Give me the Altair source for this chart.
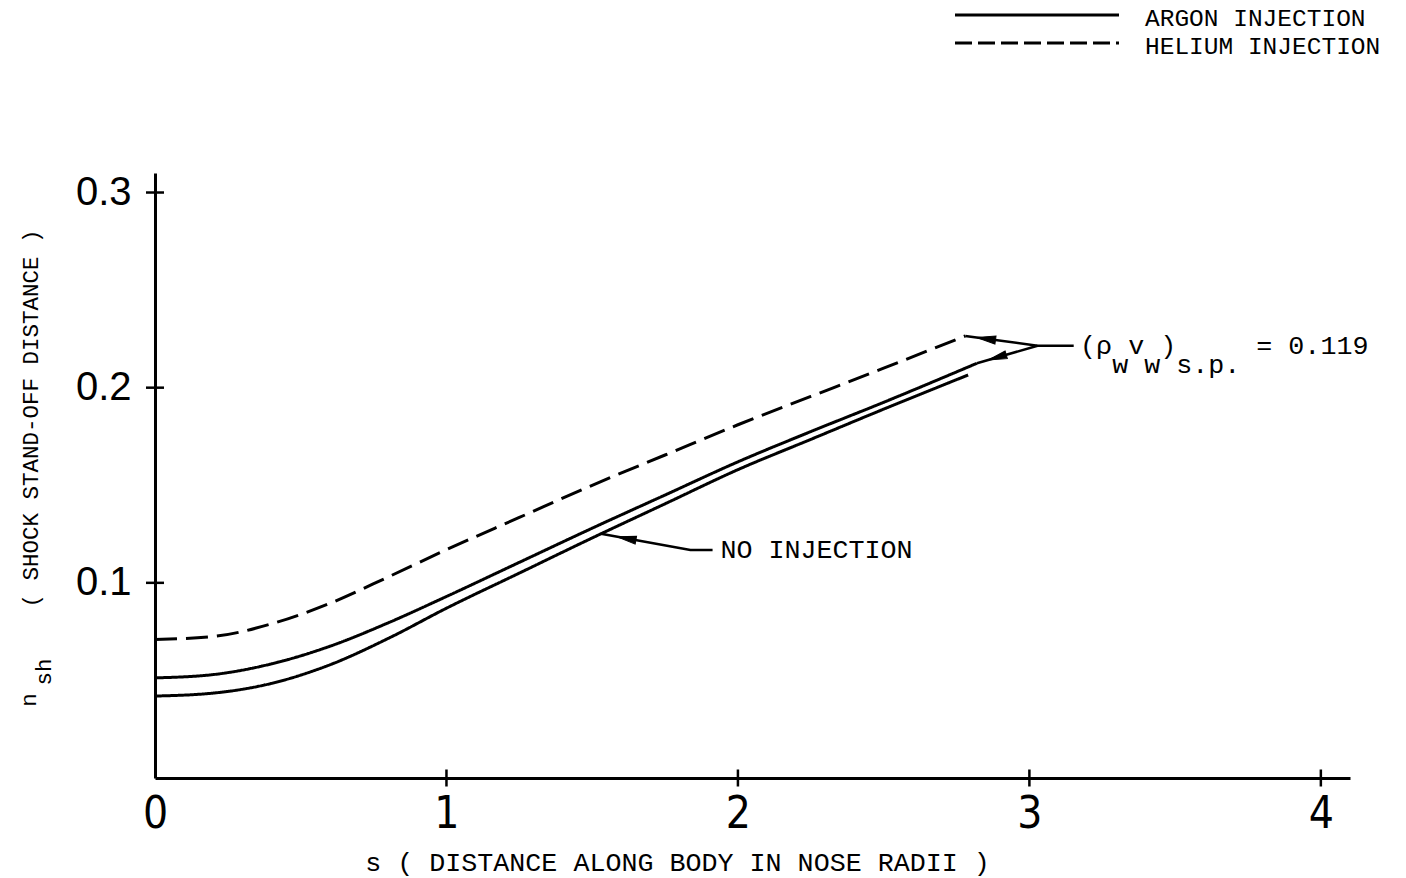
import math

import altair as alt
import numpy as np
import pandas as pd

# Shock stand-off distance n_sh against distance along the body s (nose radii)
s_helium = [0, 0.2, 0.4, 0.6, 0.8, 1.0, 1.25, 1.5, 1.75, 2.0, 2.25, 2.5, 2.78]
n_helium = [0.071, 0.0725, 0.079, 0.0895, 0.103, 0.117, 0.1335, 0.150, 0.1655, 0.181, 0.1955, 0.210, 0.2265]

s_argon = [0, 0.2, 0.4, 0.6, 0.8, 1.0, 1.25, 1.5, 1.75, 2.0, 2.25, 2.5, 2.82]
n_argon = [0.0513, 0.053, 0.0585, 0.0675, 0.0795, 0.093, 0.1105, 0.128, 0.145, 0.162, 0.1775, 0.1925, 0.2125]

s_none = [0, 0.2, 0.4, 0.6, 0.8, 1.0, 1.25, 1.5, 1.75, 2.0, 2.25, 2.5, 2.79]
n_none = [0.042, 0.0435, 0.0485, 0.058, 0.0715, 0.087, 0.105, 0.123, 0.1405, 0.158, 0.1735, 0.189, 0.2065]

series_names = ["ARGON INJECTION", "HELIUM INJECTION", "NO INJECTION"]
legend_names = ["ARGON INJECTION", "HELIUM INJECTION"]
x_tick_values = [0, 1, 2, 3, 4]
y_tick_values = [0.1, 0.2, 0.3]
blowing_value = "0.119"

# plot geometry
W, H = 1195, 605
X_MAX, Y_MAX = 4.1, 0.31
PX_S = W / X_MAX          # pixels per unit s
PX_N = H / Y_MAX          # pixels per unit n
MONO = "Liberation Mono"
MONO_SIZE = 26.7
CELL = 0.6 * MONO_SIZE    # advance of one monospaced character

# ---- curve table ------------------------------------------------------------
rows = []
for name, ss, nn in zip(series_names, [s_argon, s_helium, s_none], [n_argon, n_helium, n_none]):
    for i, (a, b) in enumerate(zip(ss, nn)):
        rows.append({"series": name, "s": a, "n": b, "order": i})
curves = pd.DataFrame(rows)

# ---- leader lines for the annotations --------------------------------------
tip_none_s = 1.53
tip_none_n = float(np.interp(tip_none_s, s_none, n_none))
label_none = (1.94, 0.1168)
label_blow = (3.174, 0.2215)

leaders = {
    "none": [(label_none[0] - 0.027, label_none[1]), (1.837, label_none[1]), (tip_none_s, tip_none_n)],
    "helium": [(label_blow[0] - 0.022, label_blow[1]), (3.028, label_blow[1]), (s_helium[-1], n_helium[-1])],
    "argon": [(3.028, label_blow[1]), (s_argon[-1], n_argon[-1])],
}
lead_rows = []
head_rows = []
for key, pts in leaders.items():
    for i, (a, b) in enumerate(pts):
        lead_rows.append({"leader": key, "s": a, "n": b, "order": i})
    (s0, n0), (s1, n1) = pts[-2], pts[-1]
    dx = (s1 - s0) * PX_S
    dy = -(n1 - n0) * PX_N
    length = math.hypot(dx, dy)
    ux, uy = dx / length, dy / length
    back = 26 if key == "none" else 21
    head_rows.append({
        "s": s1 - ux * back / PX_S,
        "n": n1 + uy * back / PX_N,
        "ang": math.degrees(math.atan2(dx, -dy)) % 360,
    })
lead_df = pd.DataFrame(lead_rows)
head_df = pd.DataFrame(head_rows)

# annotation texts; the blowing-rate label is set piece by piece so the
# subscripts sit half a line lower, one character cell apart
sub_shift = 19 / PX_N
pieces = [("(ρ", 0, 0), ("w", 2, 1), ("v", 3, 0), ("w", 4, 1), (")", 5, 0),
          ("s.p.", 6, 1), ("= " + blowing_value, 11, 0)]
note_rows = [{"s": label_none[0], "n": label_none[1], "text": "NO INJECTION"}]
for txt, cell, low in pieces:
    note_rows.append({
        "s": label_blow[0] + cell * CELL / PX_S,
        "n": label_blow[1] - low * sub_shift,
        "text": txt,
    })
notes = pd.DataFrame(note_rows)

# ---- scales & axes ----------------------------------------------------------
xs = alt.Scale(domain=[0, X_MAX], nice=False, zero=False)
ys = alt.Scale(domain=[0, Y_MAX], nice=False, zero=False)

x_axis = alt.Axis(
    values=x_tick_values, format="d", grid=False, ticks=False, tickSize=0,
    domainColor="black", domainWidth=3,
    labelFont="Liberation Sans Narrow, DejaVu Sans Condensed, Liberation Sans",
    labelFontSize=44, labelColor="black", labelPadding=14, labelFlush=False,
    title="s ( DISTANCE ALONG BODY IN NOSE RADII )",
    titleFont=MONO, titleFontSize=MONO_SIZE, titleFontWeight="normal", titleColor="black",
    titleX=522, titleY=84, titleAlign="center", titleBaseline="middle", titleAnchor="start",
)
y_axis = alt.Axis(
    values=y_tick_values, format=".1f", grid=False, ticks=False, tickSize=0,
    domainColor="black", domainWidth=3,
    labelFont="Liberation Sans", labelFontSize=40, labelColor="black",
    labelPadding=24, labelFlush=False,
    title="( SHOCK STAND-OFF DISTANCE )",
    titleFont=MONO, titleFontSize=22.5, titleFontWeight="normal", titleColor="black",
    titleAngle=270, titleX=-125, titleY=245, titleAlign="center", titleBaseline="middle",
    titleAnchor="start",
)


def X():
    return alt.X("s:Q", scale=xs, axis=x_axis)


def Y():
    return alt.Y("n:Q", scale=ys, axis=y_axis)


lines = alt.Chart(curves).mark_line(
    color="black", strokeWidth=3, interpolate="monotone"
).encode(
    x=X(), y=Y(), detail="series:N", order="order:Q",
    strokeDash=alt.StrokeDash(
        "series:N",
        scale=alt.Scale(domain=series_names, range=[[1, 0], [22, 9], [1, 0]]),
        legend=None,
    ),
)

# axis ticks that cross the axis lines
y_ticks = alt.Chart(pd.DataFrame({"s": [0.0] * 3, "n": y_tick_values})).mark_tick(
    orient="horizontal", size=18, thickness=2.5, color="black", opacity=1
).encode(x=X(), y=Y())
x_ticks = alt.Chart(pd.DataFrame({"s": x_tick_values[1:], "n": [0.0] * 4})).mark_tick(
    orient="vertical", size=17, thickness=2.5, color="black", opacity=1
).encode(x=X(), y=Y())

leader_lines = alt.Chart(lead_df).mark_line(color="black", strokeWidth=2.5).encode(
    x=X(), y=Y(), detail="leader:N", order="order:Q"
)
# filled arrowheads, a slim triangle pointing along the leader
heads = alt.Chart(head_df).mark_point(
    shape="M0,-1L0.42,1L-0.42,1Z", filled=True, fill="black", stroke="black",
    strokeWidth=1, size=360, opacity=1, fillOpacity=1,
).encode(x=X(), y=Y(), angle=alt.Angle("ang:Q", scale=None))

note_text = alt.Chart(notes).mark_text(
    font=MONO, fontSize=MONO_SIZE, align="left", baseline="middle", color="black"
).encode(x=X(), y=Y(), text="text:N")

# n_sh symbol below the rotated axis title
n_sym = alt.Chart(pd.DataFrame({"t": ["n"]})).mark_text(
    font=MONO, fontSize=22.5, angle=270, align="center", baseline="middle", color="black"
).encode(x=alt.value(-126), y=alt.value(527), text="t:N")
sh_sym = alt.Chart(pd.DataFrame({"t": ["sh"]})).mark_text(
    font=MONO, fontSize=22.5, angle=270, align="center", baseline="middle", color="black"
).encode(x=alt.value(-111), y=alt.value(499), text="t:N")

# legend in the top right corner
LEG_SIZE = 24.5
leg_solid = alt.Chart(pd.DataFrame({"name": legend_names[:1]})).mark_rule(
    color="black", strokeWidth=3
).encode(x=alt.value(800), x2=alt.value(964), y=alt.value(-158))
leg_dash = alt.Chart(pd.DataFrame({"name": legend_names[1:]})).mark_rule(
    color="black", strokeWidth=3, strokeDash=[17, 6]
).encode(x=alt.value(800), x2=alt.value(964), y=alt.value(-130))
leg_text1 = alt.Chart(pd.DataFrame({"name": legend_names[:1]})).mark_text(
    font=MONO, fontSize=LEG_SIZE, align="left", baseline="middle", color="black"
).encode(x=alt.value(990), y=alt.value(-154), text="name:N")
leg_text2 = alt.Chart(pd.DataFrame({"name": legend_names[1:]})).mark_text(
    font=MONO, fontSize=LEG_SIZE, align="left", baseline="middle", color="black"
).encode(x=alt.value(990), y=alt.value(-126), text="name:N")

chart = alt.layer(
    lines, y_ticks, x_ticks, leader_lines, heads, note_text,
    n_sym, sh_sym, leg_solid, leg_dash, leg_text1, leg_text2,
).properties(
    width=W, height=H,
    autosize=alt.AutoSizeParams(type="none"),
    padding={"left": 155, "top": 173, "right": 56, "bottom": 100},
    background="white",
).configure_view(stroke=None)

chart.save("out.html", embed_options={"renderer": "svg", "actions": False})
